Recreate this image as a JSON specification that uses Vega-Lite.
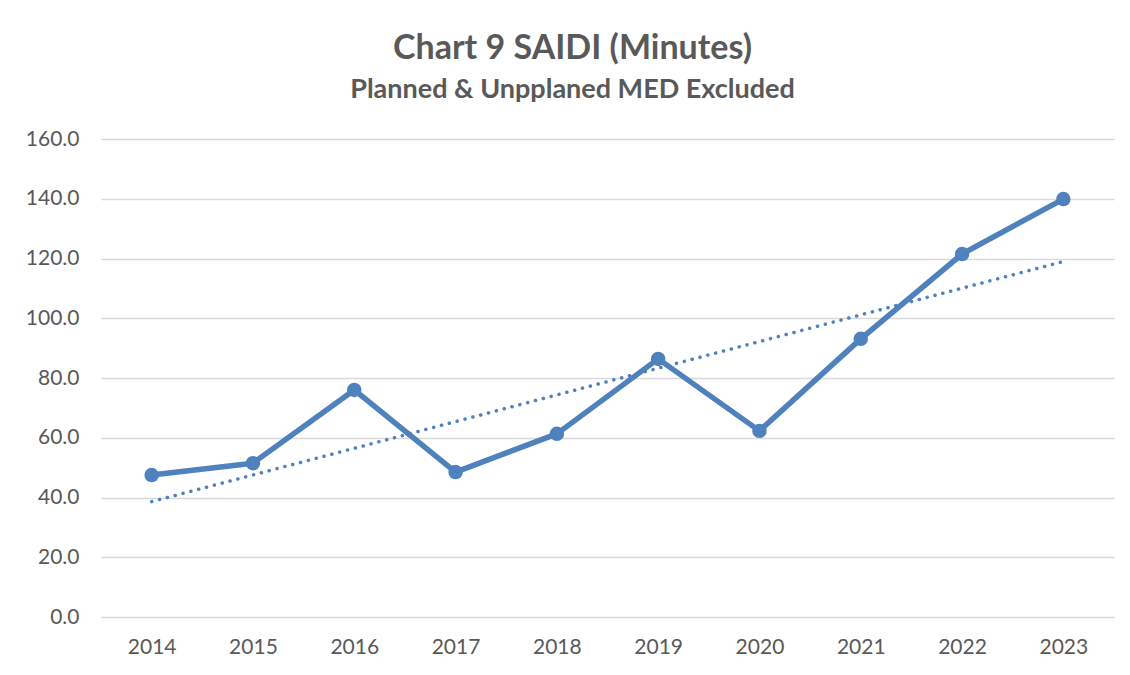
{
  "$schema": "https://vega.github.io/schema/vega-lite/v6.json",
  "autosize": "none",
  "width": 1013,
  "height": 478,
  "padding": {"left": 101, "top": 139, "right": 16, "bottom": 58},
  "background": "white",
  "config": {"view": {"stroke": null}, "font": "Lato"},
  "title": {
    "text": "Chart 9 SAIDI (Minutes)",
    "subtitle": "Planned & Unpplaned MED Excluded",
    "anchor": "middle",
    "dx": -35,
    "offset": 25,
    "font": "Lato",
    "fontSize": 34,
    "fontWeight": "bold",
    "color": "#595959",
    "subtitleFont": "Lato",
    "subtitleFontSize": 27,
    "subtitleFontWeight": "bold",
    "subtitleColor": "#595959",
    "subtitlePadding": 11
  },
  "data": {
    "values": [
      {"Year": 2014, "SAIDI": 47.5},
      {"Year": 2015, "SAIDI": 51.5},
      {"Year": 2016, "SAIDI": 76.0},
      {"Year": 2017, "SAIDI": 48.5},
      {"Year": 2018, "SAIDI": 61.3},
      {"Year": 2019, "SAIDI": 86.4},
      {"Year": 2020, "SAIDI": 62.3},
      {"Year": 2021, "SAIDI": 93.1},
      {"Year": 2022, "SAIDI": 121.5},
      {"Year": 2023, "SAIDI": 139.9}
    ]
  },
  "encoding": {
    "x": {
      "field": "Year",
      "type": "quantitative",
      "scale": {"domain": [2013.5, 2023.5], "nice": false, "zero": false},
      "axis": {
        "title": null,
        "values": [2014, 2015, 2016, 2017, 2018, 2019, 2020, 2021, 2022, 2023],
        "format": "d",
        "grid": false,
        "domain": false,
        "ticks": false,
        "labelFont": "Lato",
        "labelFontSize": 21,
        "labelColor": "#595959",
        "labelPadding": 19
      }
    },
    "y": {
      "field": "SAIDI",
      "type": "quantitative",
      "scale": {"domain": [0, 160], "nice": false},
      "axis": {
        "title": null,
        "values": [0, 20, 40, 60, 80, 100, 120, 140, 160],
        "format": ".1f",
        "grid": true,
        "gridColor": "#d9d9d9",
        "gridWidth": 1.5,
        "domain": false,
        "ticks": false,
        "labelFont": "Lato",
        "labelFontSize": 21,
        "labelColor": "#595959",
        "labelPadding": 22
      }
    }
  },
  "layer": [
    {
      "transform": [{"regression": "SAIDI", "on": "Year"}],
      "mark": {"type": "line", "color": "#4f81bd", "strokeWidth": 3.5, "strokeDash": [0.1, 8], "strokeCap": "round"}
    },
    {
      "mark": {"type": "line", "color": "#4f81bd", "strokeWidth": 5.5, "strokeJoin": "round"}
    },
    {
      "mark": {"type": "point", "filled": true, "opacity": 1, "color": "#4f81bd", "size": 210}
    }
  ]
}
